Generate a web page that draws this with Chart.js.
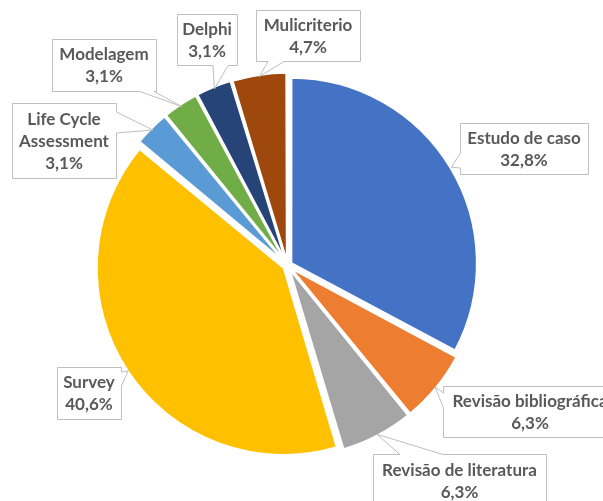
<!DOCTYPE html>
<html>
<head>
<meta charset="utf-8">
<script src="https://cdn.jsdelivr.net/npm/chart.js@4.4.1/dist/chart.umd.min.js"></script>
<style>
  html, body { margin: 0; padding: 0; background: #fff; }
  #wrap { width: 603px; height: 501px; position: relative; }
</style>
</head>
<body>
<div id="wrap"><canvas id="methodChart"></canvas></div>
<script>
// 各方法所占比例 (%)
const categories = [
  "Estudo de caso",
  "Revisão bibliográfica",
  "Revisão de literatura",
  "Survey",
  "Life Cycle Assessment",
  "Modelagem",
  "Delphi",
  "Mulicriterio",
];
const shares = [32.8, 6.3, 6.3, 40.6, 3.1, 3.1, 3.1, 4.7];
const sliceColors = [
  "#4472C4",
  "#ED7D31",
  "#A5A5A5",
  "#FFC000",
  "#5B9BD5",
  "#70AD47",
  "#264478",
  "#9E480E",
];

// 标签框位置 (与 categories 顺序相同)
const callouts = [
  { x: 460, y: 123, w: 128, h: 51, side: "left", base: [153, 168] },
  { x: 443, y: 386, w: 174, h: 51, side: "left", base: [393, 408] },
  { x: 373, y: 454, w: 173, h: 53, side: "top", base: [400, 443] },
  { x: 57, y: 367, w: 64, h: 52, side: "right", base: [372, 386] },
  { x: 12, y: 103, w: 104, h: 75, side: "right", base: [112, 133] },
  { x: 52, y: 39, w: 104, h: 52, side: "bottom", base: [140, 154] },
  { x: 177, y: 14, w: 60, h: 51, side: "bottom", base: [213, 228] },
  { x: 256, y: 10, w: 104, h: 51, side: "bottom", base: [268, 284] },
];

function wrapText(ctx, text, maxWidth) {
  const words = text.split(" ");
  const lines = [];
  let line = "";
  words.forEach((w) => {
    const test = line ? line + " " + w : w;
    if (line && ctx.measureText(test).width > maxWidth) {
      lines.push(line);
      line = w;
    } else {
      line = test;
    }
  });
  lines.push(line);
  return lines;
}

const calloutPlugin = {
  id: "callouts",
  afterDatasetsDraw(chart) {
    const ctx = chart.ctx;
    const arcs = chart.getDatasetMeta(0).data;
    ctx.save();
    ctx.font = "bold 17px Lato";
    arcs.forEach((arc, i) => {
      const b = callouts[i];
      const p = arc.getProps(["x", "y", "startAngle", "endAngle", "outerRadius"], true);
      const mid = (p.startAngle + p.endAngle) / 2;
      const r = p.outerRadius + 6;
      const tx = p.x + Math.cos(mid) * r;
      const ty = p.y + Math.sin(mid) * r;
      const L = b.x + 0.5, T = b.y + 0.5, R = b.x + b.w + 0.5, B = b.y + b.h + 0.5;

      ctx.beginPath();
      ctx.moveTo(L, T);
      if (b.side === "top") {
        ctx.lineTo(b.base[0], T);
        ctx.lineTo(tx, ty);
        ctx.lineTo(b.base[1], T);
      }
      ctx.lineTo(R, T);
      if (b.side === "right") {
        ctx.lineTo(R, b.base[0]);
        ctx.lineTo(tx, ty);
        ctx.lineTo(R, b.base[1]);
      }
      ctx.lineTo(R, B);
      if (b.side === "bottom") {
        ctx.lineTo(b.base[1], B);
        ctx.lineTo(tx, ty);
        ctx.lineTo(b.base[0], B);
      }
      ctx.lineTo(L, B);
      if (b.side === "left") {
        ctx.lineTo(L, b.base[1]);
        ctx.lineTo(tx, ty);
        ctx.lineTo(L, b.base[0]);
      }
      ctx.closePath();
      ctx.fillStyle = "#ffffff";
      ctx.fill();
      ctx.strokeStyle = "#BFBFBF";
      ctx.lineWidth = 1;
      ctx.stroke();

      const lines = wrapText(ctx, categories[i], b.w + 20);
      lines.push(shares[i].toFixed(1).replace(".", ",") + "%");
      const lh = 22;
      const cx = b.x + b.w / 2;
      const y0 = b.y + b.h / 2 - ((lines.length - 1) * lh) / 2;
      ctx.fillStyle = "#595959";
      ctx.textAlign = "center";
      ctx.textBaseline = "middle";
      lines.forEach((t, k) => ctx.fillText(t, cx, y0 + k * lh + 1));
    });
    ctx.restore();
  },
};

const ctx = document.getElementById("methodChart").getContext("2d");
const methodChart = new Chart(ctx, {
  type: "pie",
  data: {
    labels: categories,
    datasets: [
      {
        data: shares,
        backgroundColor: sliceColors,
        borderColor: "#ffffff",
        borderWidth: 2,
        offset: 18,
        radius: 185,
      },
    ],
  },
  options: {
    responsive: true,
    maintainAspectRatio: false,
    animation: false,
    layout: {
      padding: { left: 20, right: 48, top: 40, bottom: 10 },
    },
    plugins: {
      legend: { display: false },
      tooltip: { enabled: false },
    },
  },
  plugins: [calloutPlugin],
});
</script>
</body>
</html>
